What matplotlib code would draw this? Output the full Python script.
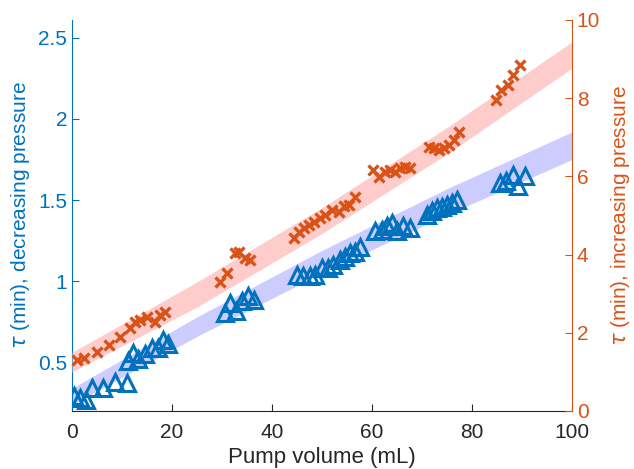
import matplotlib
matplotlib.use("Agg")
import matplotlib.pyplot as plt
import numpy as np

plt.rcParams['font.family'] = ['Liberation Sans', 'DejaVu Sans']
plt.rcParams['mathtext.fontset'] = 'dejavusans'

BLUE = '#0072BD'
ORANGE = '#D95319'

# Decreasing pressure (left axis), triangles
dec_x = [0.3, 1.6, 2.8, 3.9, 6.2, 8.6, 10.9, 11.2, 12.2, 13.2, 14.6, 15.9, 17.2, 18.2, 19.2,
         30.6, 31.6, 32.8, 34.0, 35.2, 36.4,
         44.9, 46.2, 47.6, 48.6, 49.9, 51.2, 52.2, 53.6, 54.6, 55.6, 56.6, 57.6,
         60.6, 61.9, 62.9, 63.9, 64.9, 66.2, 67.6,
         70.9, 71.9, 72.9, 73.9, 74.9, 75.9, 76.9,
         85.6, 86.9, 88.2, 89.2, 90.6]
dec_y = [0.29, 0.28, 0.27, 0.34, 0.34, 0.38, 0.37, 0.51, 0.56, 0.52, 0.55, 0.59, 0.59, 0.64, 0.61,
         0.805, 0.867, 0.817, 0.879, 0.91, 0.885,
         1.04, 1.03, 1.03, 1.04, 1.08, 1.08, 1.10, 1.13, 1.15, 1.175, 1.18, 1.21,
         1.307, 1.317, 1.338, 1.36, 1.307, 1.338, 1.33,
         1.41, 1.43, 1.45, 1.46, 1.47, 1.48, 1.50,
         1.605, 1.615, 1.657, 1.585, 1.646]

# Increasing pressure (right axis), crosses
inc_x = [0.9, 2.3, 4.9, 7.3, 9.6, 11.6, 12.6, 13.6, 14.9, 16.6, 17.6, 18.6,
         29.6, 30.9, 32.6, 33.3, 34.6, 35.6,
         44.3, 45.3, 46.3, 47.3, 48.3, 49.6, 50.6, 51.9, 53.3, 54.3, 55.3, 56.6,
         60.2, 61.4, 62.6, 63.6, 64.6, 65.6, 66.6, 67.6,
         71.3, 72.3, 73.3, 74.3, 75.3, 76.3, 77.3,
         84.9, 85.9, 87.3, 88.3, 89.6]
inc_y = [1.30, 1.35, 1.52, 1.69, 1.88, 2.12, 2.28, 2.33, 2.41, 2.28, 2.46, 2.54,
         3.31, 3.52, 4.03, 4.07, 3.91, 3.86,
         4.42, 4.59, 4.67, 4.76, 4.84, 4.93, 5.01, 5.14, 5.10, 5.23, 5.27, 5.48,
         6.16, 5.98, 6.11, 6.16, 6.11, 6.21, 6.24, 6.21,
         6.76, 6.72, 6.68, 6.72, 6.80, 6.93, 7.14,
         7.95, 8.21, 8.34, 8.59, 8.85]

# Fit bands (lower / upper edges read at band_x)
band_x = [0, 25, 50, 75, 100]
dec_lo = [0.24, 0.66, 1.05, 1.41, 1.75]
dec_hi = [0.34, 0.78, 1.19, 1.57, 1.92]
inc_lo = [1.00, 2.66, 4.54, 6.57, 8.77]
inc_hi = [1.50, 3.30, 5.20, 7.25, 9.44]

fig = plt.figure(figsize=(6.34, 4.69), dpi=100)
ax = fig.add_axes([0.1136, 0.1237, 0.7886, 0.8337])
ax2 = ax.twinx()

ax.fill_between(band_x, dec_lo, dec_hi, color='#CCCCFF', lw=0, zorder=1)
ax.plot(dec_x, dec_y, '^', ms=11, mfc='none', mec=BLUE, mew=2.2, zorder=3)
ax2.fill_between(band_x, inc_lo, inc_hi, color='#FFCCCC', lw=0, zorder=1)
ax2.plot(inc_x, inc_y, 'x', ms=7, mec=ORANGE, mew=2.4, zorder=3)

ax.set_xlim(0, 100)
ax.set_ylim(0.2, 2.61)
ax2.set_ylim(0, 10)
ax.set_xticks([0, 20, 40, 60, 80, 100])
ax.set_yticks([0.5, 1, 1.5, 2, 2.5])
ax.set_yticklabels(['0.5', '1', '1.5', '2', '2.5'])
ax2.set_yticks([0, 2, 4, 6, 8, 10])

for a in (ax, ax2):
    a.spines['top'].set_visible(False)
ax.spines['right'].set_visible(False)
ax2.spines['left'].set_visible(False)
ax2.spines['bottom'].set_visible(False)
ax.spines['left'].set_color(BLUE)
ax2.spines['right'].set_color(ORANGE)
ax.spines['bottom'].set_color('#262626')

ax.tick_params(axis='x', direction='in', labelsize=15, colors='#262626', length=5, pad=9)
ax.tick_params(axis='y', direction='in', labelsize=15, colors=BLUE, length=5)
ax2.tick_params(axis='y', direction='in', labelsize=15, colors=ORANGE, length=5)

ax.set_xlabel('Pump volume (mL)', fontsize=16, color='#262626', labelpad=3)
ax.set_ylabel(r'$\tau$ (min), decreasing pressure', fontsize=15, color=BLUE, labelpad=4)
ax2.set_ylabel(r'$\tau$ (min), increasing pressure', fontsize=15, color=ORANGE, labelpad=6)

fig.savefig('out.png', dpi=100)
